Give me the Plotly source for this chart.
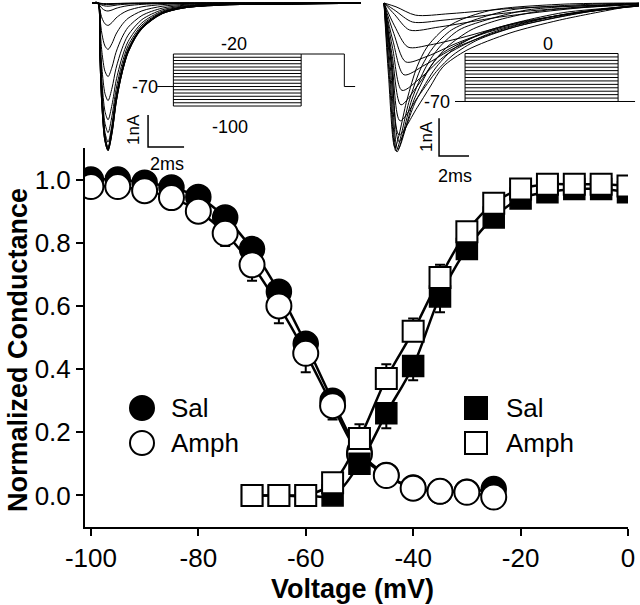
import plotly.graph_objects as go

FONT = "Arial, 'Liberation Sans', Helvetica, sans-serif"
W, H = 640, 605

# ---------------- main data ----------------
# steady-state inactivation (circles)
inact_v = [-100, -95, -90, -85, -80, -75, -70, -65, -60, -55, -50, -45, -40, -35, -30, -25]
inact_sal = [1.0, 1.0, 0.99, 0.975, 0.945, 0.88, 0.78, 0.645, 0.48, 0.30, 0.14, 0.065, 0.025, 0.013, 0.012, 0.02]
inact_amph = [0.978, 0.978, 0.965, 0.943, 0.90, 0.83, 0.73, 0.60, 0.45, 0.284, 0.13, 0.063, 0.023, 0.013, 0.01, -0.005]
inact_amph_err = [0.01, 0.01, 0.01, 0.01, 0.015, 0.04, 0.05, 0.055, 0.06, 0.044, 0.02, 0.01, 0.01, 0.01, 0.01, 0.01]

# activation (squares)
act_v = [-70, -65, -60, -55, -50, -45, -40, -35, -30, -25, -20, -15, -10, -5, 0]
act_sal = [0.0, 0.0, 0.0, 0.0, 0.10, 0.26, 0.41, 0.63, 0.78, 0.88, 0.94, 0.96, 0.97, 0.97, 0.96]
act_amph = [0.0, 0.0, 0.0, 0.04, 0.18, 0.37, 0.52, 0.69, 0.835, 0.925, 0.97, 0.985, 0.985, 0.985, 0.98]
act_sal_err = [0.005, 0.005, 0.005, 0.01, 0.03, 0.047, 0.045, 0.05, 0.02, 0.01, 0.01, 0.01, 0.01, 0.01, 0.01]
act_amph_err = [0.005, 0.005, 0.005, 0.01, 0.045, 0.045, 0.04, 0.04, 0.02, 0.01, 0.01, 0.01, 0.01, 0.01, 0.01]

x_ticks = [-100, -80, -60, -40, -20, 0]
x_ticktext = ["-100", "-80", "-60", "-40", "-20", "0"]
y_ticks = [0.0, 0.2, 0.4, 0.6, 0.8, 1.0]
y_ticktext = ["0.0", "0.2", "0.4", "0.6", "0.8", "1.0"]

# ---------------- inset data ----------------
# left inset: inactivation protocol current traces (ms, nA)
lw_t = [-0.3, 0, 0.11, 0.22, 0.39, 0.56, 0.78, 1.0, 1.33, 1.67, 2.44, 3.56, 4.83, 7.33, 11.2, 14.6]
lw_shape = [0, 0, 0.33, 0.67, 0.93, 1.0, 0.87, 0.67, 0.47, 0.33, 0.17, 0.07, 0.03, 0.01, 0.005, 0]
left_amps = [4.6, 4.6, 4.55, 4.5, 4.35, 4.05, 3.65, 3.05, 2.3, 1.45, 0.7, 0.25, 0.1, 0.05, 0.03, 0.02]

# right inset: activation protocol current traces (ms, nA)
right_traces = [
    ([0, 0.8, 2.1, 4.4, 9.0, 16.5, 17], [0, -0.1, -0.32, -0.28, -0.13, -0.03, 0]),
    ([0, 0.75, 1.9, 4.0, 8.5, 14, 17], [0, -0.2, -0.5, -0.45, -0.25, -0.08, -0.02]),
    ([0, 0.7, 1.7, 3.7, 7.7, 13.0, 17], [0, -0.3, -0.71, -0.63, -0.37, -0.13, -0.02]),
    ([0, 0.7, 1.6, 3.1, 5.1, 9.1, 14.4, 17], [0, -0.6, -1.16, -1.1, -0.92, -0.5, -0.18, -0.08]),
    ([0, 0.65, 1.45, 2.9, 4.9, 8.0, 12.5, 17], [0, -0.8, -1.55, -1.4, -1.05, -0.62, -0.28, -0.08]),
    ([0, 0.6, 1.33, 2.73, 4.73, 8.4, 14.4, 17], [0, -1.0, -1.89, -1.63, -1.18, -0.66, -0.18, -0.08]),
    ([0, 0.58, 1.2, 2.5, 4.2, 7.2, 12, 17], [0, -1.2, -2.3, -1.95, -1.35, -0.78, -0.3, -0.06]),
    ([0, 0.55, 1.13, 2.27, 3.73, 6.4, 11.7, 17], [0, -1.4, -2.68, -2.16, -1.37, -0.84, -0.32, -0.05]),
    ([0, 0.52, 1.07, 2.3, 3.5, 4.6, 6.2, 9.0, 12.5, 17], [0, -1.5, -3.1, -2.45, -1.8, -1.37, -0.98, -0.6, -0.3, -0.06]),
    ([0, 0.5, 1.0, 2.2, 3.07, 3.93, 5.53, 8.4, 11.7, 16.2, 17], [0, -1.6, -3.47, -2.76, -2.21, -1.68, -1.24, -0.79, -0.45, -0.1, -0.05]),
    ([0, 0.5, 1.0, 2.1, 3.5, 4.8, 6.8, 9.0, 12, 16.5, 17], [0, -1.7, -3.65, -2.6, -1.68, -1.16, -0.75, -0.5, -0.25, -0.08, -0.05]),
    ([0, 0.45, 0.93, 2.0, 3.1, 4.2, 5.8, 7.6, 10.6, 16, 17], [0, -1.8, -3.85, -2.55, -1.68, -1.16, -0.71, -0.45, -0.2, -0.06, -0.04]),
    ([0, 0.4, 0.87, 1.85, 2.8, 3.7, 5.0, 6.8, 9.6, 15, 17], [0, -1.9, -3.92, -2.55, -1.68, -1.16, -0.71, -0.45, -0.18, -0.04, -0.02]),
    ([0, 0.35, 0.8, 1.7, 2.5, 3.3, 4.5, 6.0, 8.5, 14, 17], [0, -1.9, -3.9, -2.55, -1.68, -1.16, -0.71, -0.45, -0.18, -0.03, -0.01]),
    ([0, 0.3, 0.73, 1.53, 2.2, 2.87, 3.93, 5.07, 7.27, 12, 17], [0, -1.9, -3.8, -2.55, -1.68, -1.16, -0.71, -0.45, -0.18, -0.03, 0]),
]

# voltage protocols (ms, mV)
left_prepulses = list(range(-100, -15, 5))     # -100 ... -20
left_hold, left_test = -70, -20
left_times = [0.4, 1.3, 8.4, 10.8, 11.4]       # hold start, step on, step off, test off, end
right_tests = list(range(-70, 5, 5))           # -70 ... 0
right_hold = -70
right_times = [1.0, 1.67, 11.87, 13.0]         # hold start, step on, step off, end


def px_x(p):
    return p / W


def px_y(p):
    return 1 - p / H


fig = go.Figure()

# ---------- fitted curves ----------
for xs, ys in [(inact_v, inact_sal), (inact_v, inact_amph), (act_v, act_sal), (act_v, act_amph)]:
    fig.add_trace(go.Scatter(x=xs, y=ys, mode="lines",
                             line=dict(color="black", width=2.5, shape="spline", smoothing=1),
                             hoverinfo="skip", showlegend=False))

# ---------- markers ----------
fig.add_trace(go.Scatter(x=inact_v, y=inact_sal, mode="markers", name="Sal",
                         marker=dict(symbol="circle", size=25, color="black",
                                     line=dict(color="black", width=1.5)),
                         showlegend=False))
fig.add_trace(go.Scatter(x=inact_v, y=inact_amph, mode="markers", name="Amph",
                         marker=dict(symbol="circle", size=25, color="white",
                                     line=dict(color="black", width=2)),
                         error_y=dict(type="data", symmetric=False,
                                      array=[0] * len(inact_v), arrayminus=inact_amph_err,
                                      color="black", thickness=2, width=5),
                         showlegend=False))
fig.add_trace(go.Scatter(x=act_v, y=act_sal, mode="markers", name="Sal",
                         marker=dict(symbol="square", size=21, color="black",
                                     line=dict(color="black", width=1.5)),
                         error_y=dict(type="data", symmetric=False,
                                      array=[0] * len(act_v), arrayminus=act_sal_err,
                                      color="black", thickness=2, width=5),
                         showlegend=False))
fig.add_trace(go.Scatter(x=act_v, y=act_amph, mode="markers", name="Amph",
                         marker=dict(symbol="square", size=21, color="white",
                                     line=dict(color="black", width=2)),
                         error_y=dict(type="data", symmetric=False,
                                      array=act_amph_err, arrayminus=[0] * len(act_v),
                                      color="black", thickness=2, width=5),
                         showlegend=False))

# ---------- left inset traces ----------
for k, a in enumerate(left_amps):
    fig.add_trace(go.Scatter(x=lw_t, y=[-a * s for s in lw_shape], mode="lines",
                             line=dict(color="black", width=1.6 if k < 3 else 1,
                                       shape="spline", smoothing=0.8),
                             xaxis="x2", yaxis="y2", hoverinfo="skip", showlegend=False))
# scale bar (1 nA, 2 ms)
fig.add_trace(go.Scatter(x=[2.78, 2.78, 4.78], y=[-3.5, -4.5, -4.5], mode="lines",
                         line=dict(color="black", width=1.5), xaxis="x2", yaxis="y2",
                         hoverinfo="skip", showlegend=False))

# ---------- right inset traces ----------
for t, i in right_traces:
    fig.add_trace(go.Scatter(x=t, y=i, mode="lines",
                             line=dict(color="black", width=1, shape="spline", smoothing=0.8),
                             xaxis="x3", yaxis="y3", hoverinfo="skip", showlegend=False))
fig.add_trace(go.Scatter(x=[3.67, 3.67, 5.67], y=[-3.03, -4.03, -4.03], mode="lines",
                         line=dict(color="black", width=1.5), xaxis="x3", yaxis="y3",
                         hoverinfo="skip", showlegend=False))

# ---------- left protocol ----------
hs, on, off, toff, end = left_times
px, py = [], []
for v in left_prepulses:
    px += [on, off, None]
    py += [v, v, None]
px += [on, on, None, off, off, None, hs, on, None, off, toff, toff, end]
py += [min(left_prepulses), max(left_prepulses), None,
       min(left_prepulses), max(left_prepulses), None,
       left_hold, left_hold, None, left_test, left_test, left_hold, left_hold]
fig.add_trace(go.Scatter(x=px, y=py, mode="lines", line=dict(color="black", width=1),
                         xaxis="x4", yaxis="y4", hoverinfo="skip", showlegend=False))

# ---------- right protocol ----------
hs, on, off, end = right_times
px, py = [], []
for v in right_tests:
    px += [on, off, None]
    py += [v, v, None]
px += [on, on, None, off, off, None, hs, end]
py += [min(right_tests), max(right_tests), None,
       min(right_tests), max(right_tests), None, right_hold, right_hold]
fig.add_trace(go.Scatter(x=px, y=py, mode="lines", line=dict(color="black", width=1),
                         xaxis="x5", yaxis="y5", hoverinfo="skip", showlegend=False))

axis_common = dict(showline=True, linecolor="black", linewidth=2, ticks="outside",
                   ticklen=7, tickwidth=2, tickcolor="black", showgrid=False, zeroline=False,
                   tickfont=dict(family=FONT, size=26, color="black"), fixedrange=True,
                   automargin=False)
hidden = dict(visible=False, fixedrange=True, showgrid=False, zeroline=False, automargin=False)

fig.update_layout(
    width=W, height=H,
    margin=dict(l=0, r=0, t=0, b=0, autoexpand=False),
    paper_bgcolor="white", plot_bgcolor="rgba(0,0,0,0)",
    font=dict(family=FONT, color="black"),
    showlegend=False,
    xaxis=dict(domain=[px_x(85), px_x(628)], range=[-101.1, 0], tickvals=x_ticks,
               ticktext=x_ticktext, anchor="y", **axis_common),
    yaxis=dict(domain=[px_y(527), px_y(148)], range=[-0.1, 1.1], tickvals=y_ticks,
               ticktext=y_ticktext, anchor="x", **axis_common),
    xaxis2=dict(domain=[px_x(90), px_x(365)], range=[-0.444, 14.83], anchor="y2", **hidden),
    yaxis2=dict(domain=[px_y(160), 1.0], range=[-4.906, 0.094], anchor="x2", **hidden),
    xaxis3=dict(domain=[px_x(375), 1.0], range=[-0.6, 17.07], anchor="y3", **hidden),
    yaxis3=dict(domain=[px_y(160), 1.0], range=[-4.132, 0.079], anchor="x3", **hidden),
    xaxis4=dict(domain=[px_x(150), px_x(360)], range=[0, 11.67], anchor="y4", **hidden),
    yaxis4=dict(domain=[px_y(115), px_y(40)], range=[-113.8, 1.54], anchor="x4", **hidden),
    xaxis5=dict(domain=[px_x(440), 1.0], range=[0, 13.33], anchor="y5", **hidden),
    yaxis5=dict(domain=[px_y(115), px_y(40)], range=[-89.7, 19.7], anchor="x5", **hidden),
)

# ---------- legends (symbols as shapes, text as annotations) ----------
shapes = []
r = 12
for cy, fill in [(408, "black"), (443, "white")]:
    shapes.append(dict(type="circle", xref="paper", yref="paper",
                       x0=px_x(142 - r), x1=px_x(142 + r), y0=px_y(cy + r), y1=px_y(cy - r),
                       fillcolor=fill, line=dict(color="black", width=2)))
s = 11
for cy, fill in [(408, "black"), (443, "white")]:
    shapes.append(dict(type="rect", xref="paper", yref="paper",
                       x0=px_x(476 - s), x1=px_x(476 + s), y0=px_y(cy + s), y1=px_y(cy - s),
                       fillcolor=fill, line=dict(color="black", width=2)))
fig.update_layout(shapes=shapes)


def ann(text, x, y, size=26, xanchor="center", bold=False, angle=0):
    fig.add_annotation(text=f"<b>{text}</b>" if bold else text, x=px_x(x), y=px_y(y),
                       xref="paper", yref="paper", xanchor=xanchor, yanchor="middle",
                       showarrow=False, textangle=angle, borderpad=0,
                       font=dict(family=FONT, size=size, color="black"))


ann("Sal", 170, 408, xanchor="left")
ann("Amph", 170, 443, xanchor="left")
ann("Sal", 505, 408, xanchor="left")
ann("Amph", 505, 443, xanchor="left")
ann("Voltage (mV)", 352, 589, size=27, bold=True)
ann("Normalized Conductance", 18, 350, size=27, bold=True, angle=-90)

# inset labels
ann("-20", 234, 44, size=18)
ann("-70", 145, 87, size=18)
ann("-100", 230, 127, size=18)
ann("1nA", 134, 130, size=17, angle=-90)
ann("2ms", 167, 164, size=18)
ann("0", 548, 44, size=18)
ann("-70", 437, 102, size=18)
ann("1nA", 426, 137, size=17, angle=-90)
ann("2ms", 455, 176, size=18)

fig.write_html("out.html", config={"displayModeBar": False},
               post_script="document.body.style.margin='0';document.body.style.overflow='hidden';")
